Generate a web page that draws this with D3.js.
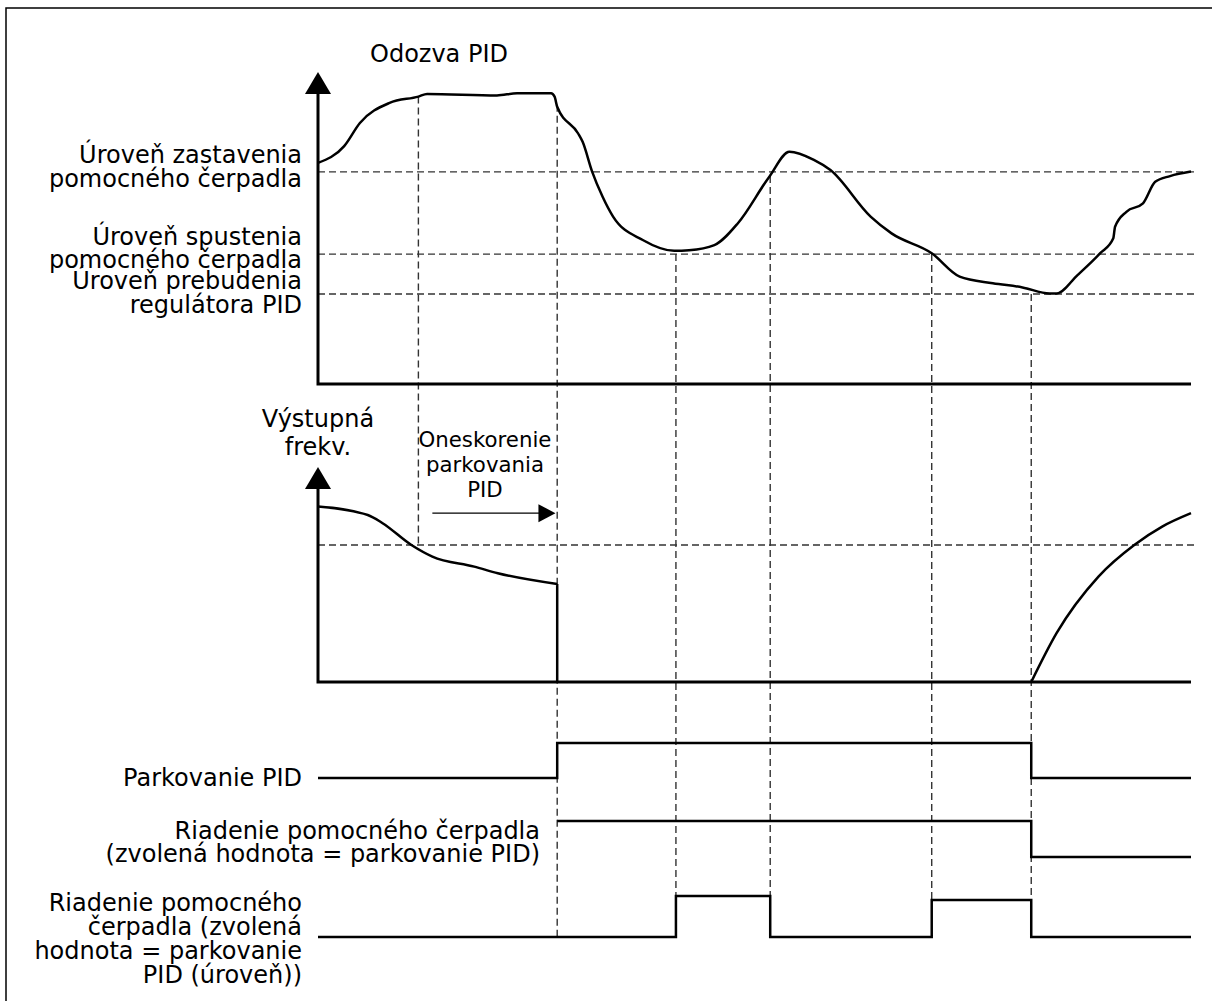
<!DOCTYPE html>
<html lang="sk">
<head>
    <meta charset="UTF-8">
    <title>Parkovanie PID</title>
    <script src="https://d3js.org/d3.v7.min.js"></script>
    <style>
        body { margin: 0; background: #fff; }
        text { font-family: "DejaVu Sans", Verdana, sans-serif; fill: #000; }
        .lbl { font-size: 24px; }
        .small { font-size: 21.3px; }
        .curve { fill: none; stroke: #000; stroke-width: 2.5; }
        .axis { fill: none; stroke: #000; stroke-width: 3; }
        .grid { fill: none; stroke: #333; stroke-width: 1.4; stroke-dasharray: 7,4; }
    </style>
</head>
<body>
<svg id="chart" width="1212" height="1001"></svg>
<script>
    // PID response (time 0..100, value 0..100)
    const response = [
        [0, 73.7], [3.0, 79.3], [4.8, 87], [8.2, 93.7], [11.5, 95.8], [12.5, 96.7],
        [20.5, 96.2], [22.8, 96.9], [26.7, 96.9], [27.1, 95.8], [27.4, 92.4],
        [29.8, 83.5], [30.3, 80.8], [31.4, 70.8], [32.6, 62.4], [33.8, 55.8], [37.2, 48],
        [40.8, 44.4], [42.5, 44.6], [45.4, 46.3], [48.1, 53.6], [51.7, 69.1],
        [54.0, 77.4], [56.8, 74.7], [58.7, 71.3], [63.3, 55.8], [65.7, 50.2],
        [70.3, 43.6], [73.5, 35.8], [77.3, 33.6], [80.7, 32.2], [83.8, 30.2],
        [84.6, 30.2], [87.0, 36.3], [89.6, 43.6], [91.1, 48.6], [91.3, 52.4],
        [92.6, 57.4], [94.5, 60.2], [95.9, 67.4], [97.6, 69.3], [100, 70.8]
    ];
    // levels on the response axis
    const levels = [70.7, 43.3, 30];
    const levelLabels = [
        ["Úroveň zastavenia", "pomocného čerpadla"],
        ["Úroveň spustenia", "pomocného čerpadla"],
        ["Úroveň prebudenia", "regulátora PID"]
    ];

    // output frequency
    const freqBefore = [
        [0, 87.7], [5.7, 83.5], [7.4, 79.4], [10.7, 68.5], [13.1, 62.7],
        [17.9, 57.7], [20.6, 54.4], [27.4, 49], [27.4, 0]
    ];
    const freqAfter = [
        [81.7, 0], [84.6, 24.4], [89.4, 52.7], [93.5, 68.5], [96.7, 77.7], [100, 84.4]
    ];
    const freqLevel = 68.5;
    const delay = [13.1, 27.2, 84.4];

    // event times
    const tAsleepStart = 11.5, tSleep = 27.4, tStart1 = 41, tStop1 = 51.8, tStart2 = 70.3, tWake = 81.7;

    // digital signals [time, state]
    const parking = [[0, 0], [tSleep, 1], [tWake, 0], [100, 0]];
    const auxParking = [[tSleep, 1], [tWake, 0], [100, 0]];
    const auxLevel = [[0, 0], [tStart1, 1], [tStop1, 0], [tStart2, 0.9], [tWake, 0], [100, 0]];

    const svg = d3.select("#chart");

    // frame
    svg.append("path").attr("d", "M6,1001 V8 H1212")
        .attr("fill", "none").attr("stroke", "#000").attr("stroke-width", 1.5);

    const x = d3.scaleLinear().domain([0, 100]).range([318, 1191]);
    const yTop = d3.scaleLinear().domain([0, 100]).range([384, 84]);
    const yMid = d3.scaleLinear().domain([0, 100]).range([682, 482]);
    const ySig = (low, amp) => d3.scaleLinear().domain([0, 1]).range([low, low - amp]);
    const yPark = ySig(778, 35), yAux1 = ySig(857, 36), yAux2 = ySig(937, 41);

    const interp = (data, t) => {
        for (let i = 1; i < data.length; i++) {
            if (data[i][0] >= t) {
                const [t0, v0] = data[i - 1], [t1, v1] = data[i];
                return t1 === t0 ? v1 : v0 + (v1 - v0) * (t - t0) / (t1 - t0);
            }
        }
        return data[data.length - 1][1];
    };

    // vertical guides
    const guides = [
        {t: tAsleepStart, y0: yTop(interp(response, tAsleepStart)), y1: yMid(freqLevel)},
        {t: tSleep, y0: yTop(interp(response, tSleep)) - 2, y1: yAux2(0)},
        {t: tStart1, y0: yTop(levels[1]), y1: yAux2(1)},
        {t: tStop1, y0: yTop(levels[0]) + 4, y1: yAux2(1)},
        {t: tStart2, y0: yTop(levels[1]), y1: yAux2(0.9)},
        {t: tWake, y0: yTop(levels[2]), y1: yAux2(0.9)}
    ];
    svg.append("g").selectAll("line").data(guides).join("line")
        .attr("class", "grid")
        .attr("x1", d => x(d.t)).attr("x2", d => x(d.t))
        .attr("y1", d => d.y0).attr("y2", d => d.y1);

    // horizontal level guides
    svg.append("g").selectAll("line").data(levels).join("line")
        .attr("class", "grid")
        .attr("x1", x(0)).attr("x2", 1197)
        .attr("y1", d => yTop(d)).attr("y2", d => yTop(d));
    svg.append("line").attr("class", "grid")
        .attr("x1", x(0)).attr("x2", 1197)
        .attr("y1", yMid(freqLevel)).attr("y2", yMid(freqLevel));

    // axes with arrows
    function axisWithArrow(yScale, tipY) {
        const baseY = tipY + 22;
        svg.append("path").attr("class", "axis")
            .attr("d", `M${x(0)},${baseY} V${yScale(0)} H${x(100)}`);
        svg.append("path")
            .attr("d", `M${x(0)},${tipY} L${x(0) + 13},${baseY} L${x(0) - 13},${baseY} Z`)
            .attr("fill", "#000");
    }
    axisWithArrow(yTop, 72);
    axisWithArrow(yMid, 467);

    const line = (ys) => d3.line().x(d => x(d[0])).y(d => ys(d[1])).curve(d3.curveMonotoneX);
    svg.append("path").attr("class", "curve").attr("d", line(yTop)(response));
    svg.append("path").attr("class", "curve")
        .attr("d", line(yMid)(freqBefore.slice(0, -1))
            + d3.line().x(d => x(d[0])).y(d => yMid(d[1]))(freqBefore.slice(-2)));
    svg.append("path").attr("class", "curve").attr("d", line(yMid)(freqAfter));

    // delay arrow
    const ay = yMid(delay[2]);
    svg.append("line").attr("x1", x(delay[0])).attr("x2", x(delay[1]) - 14)
        .attr("y1", ay).attr("y2", ay).attr("stroke", "#000").attr("stroke-width", 1.3);
    svg.append("path")
        .attr("d", `M${x(delay[1])},${ay} L${x(delay[1]) - 17},${ay - 9} L${x(delay[1]) - 17},${ay + 9} Z`)
        .attr("fill", "#000");

    // signals
    const step = (ys) => d3.line().x(d => x(d[0])).y(d => ys(d[1])).curve(d3.curveStepAfter);
    svg.append("path").attr("class", "curve").attr("d", step(yPark)(parking));
    svg.append("path").attr("class", "curve").attr("d", step(yAux1)(auxParking));
    svg.append("path").attr("class", "curve").attr("d", step(yAux2)(auxLevel));

    // texts
    function label(lines, xPos, y0, dy, anchor, cls) {
        const t = svg.append("text").attr("class", cls || "lbl").attr("text-anchor", anchor);
        lines.forEach((s, i) => t.append("tspan").attr("x", xPos).attr("y", y0 + i * dy).text(s));
    }
    label(["Odozva PID"], 370, 62, 0, "start");
    label(levelLabels[0], 302, 163, 24, "end");
    label(levelLabels[1], 302, 245, 23, "end");
    label(levelLabels[2], 302, 289, 24, "end");
    label(["Výstupná", "frekv."], x(0), 427, 28, "middle");
    label(["Oneskorenie", "parkovania", "PID"], 485, 447, 25, "middle", "small");
    label(["Parkovanie PID"], 302, 786, 0, "end");
    label(["Riadenie pomocného čerpadla", "(zvolená hodnota = parkovanie PID)"], 540, 839, 23, "end");
    label(["Riadenie pomocného", "čerpadla (zvolená", "hodnota = parkovanie", "PID (úroveň))"], 302, 911, 24, "end");
</script>
</body>
</html>
